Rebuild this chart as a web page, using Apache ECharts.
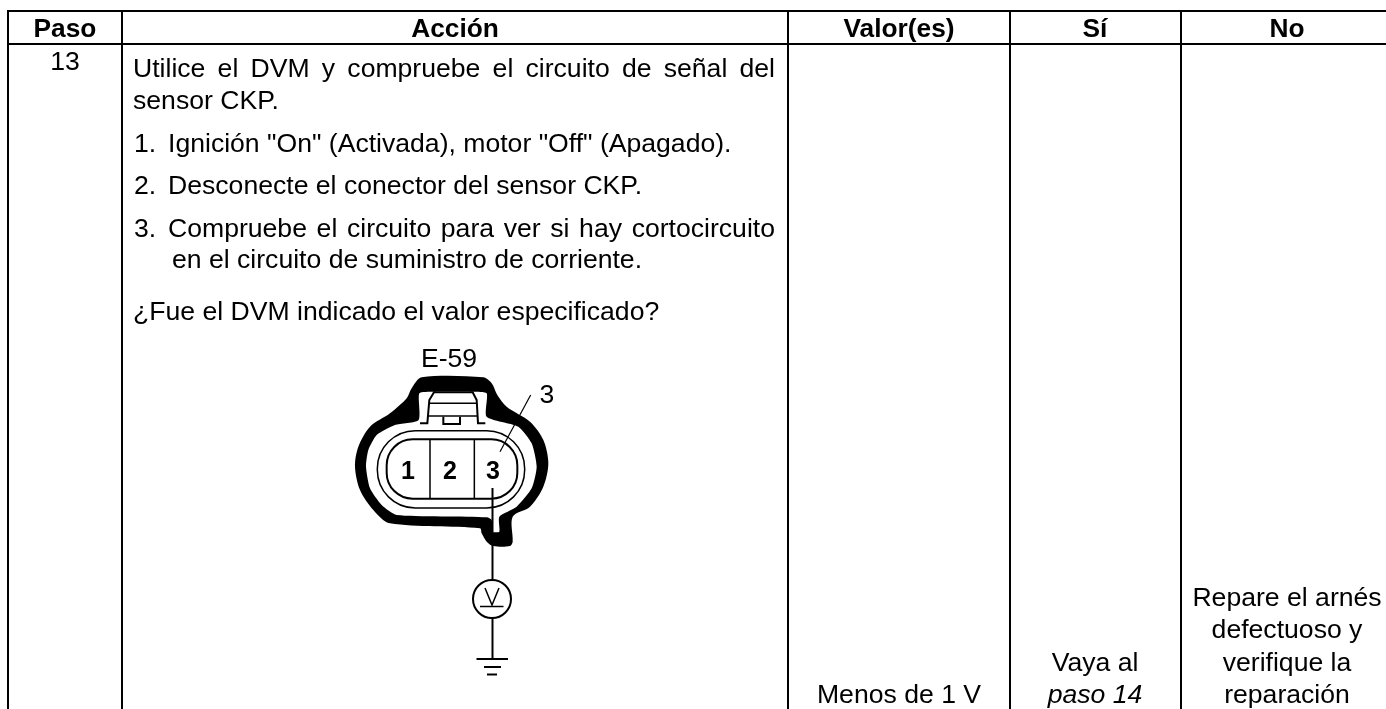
<!DOCTYPE html>
<html>
<head>
<meta charset="utf-8">
<style>html,body{margin:0;padding:0;background:#fff}#main{width:1386px;height:709px}</style>
<script src="https://cdn.jsdelivr.net/npm/echarts@6/dist/echarts.min.js"></script>
</head>
<body>
<div id="main"></div>
<script>
var headers=['Paso','Acción','Valor(es)','Sí','No'];
var stepNo='13';
var introLine1=['Utilice','el','DVM','y','compruebe','el','circuito','de','señal','del'];
var introLine2='sensor CKP.';
var item1='Ignición "On" (Activada), motor "Off" (Apagado).';
var item2='Desconecte el conector del sensor CKP.';
var item3Line1=['Compruebe','el','circuito','para','ver','si','hay','cortocircuito'];
var item3Line2='en el circuito de suministro de corriente.';
var question='¿Fue el DVM indicado el valor especificado?';
var valueText='Menos de 1 V';
var yesText=['Vaya al','paso 14'];
var noText=['Repare el arnés','defectuoso y','verifique la','reparación'];

var myChart=echarts.init(document.getElementById('main'));
var FONT='"Liberation Sans", Arial, sans-serif';
var SIZE=26.6;
var colX=[8,122,788,1010,1181];
var els=[];

var ctx=document.createElement('canvas').getContext('2d');
function measure(s){
  ctx.font=SIZE+'px '+FONT;
  return ctx.measureText(s).width;
}
// baseline y is converted to a middle-aligned y
function text(s,x,base,align,opts){
  opts=opts||{};
  var size=opts.size||SIZE;
  els.push({type:'text',silent:true,z:5,x:x,y:base-size*0.27,style:{
    text:s,fill:'#000',align:align||'left',verticalAlign:'middle',
    font:(opts.style||'')+' '+(opts.weight||'normal')+' '+size+'px '+FONT
  }});
}
function justify(words,x0,x1,base){
  var sum=0;
  for(var i=0;i<words.length;i++){sum+=measure(words[i])}
  var gap=(x1-x0-sum)/(words.length-1);
  var x=x0;
  for(var j=0;j<words.length;j++){
    text(words[j],x,base);
    x+=measure(words[j])+gap;
  }
}
function line(x1,y1,x2,y2,w){
  els.push({type:'line',silent:true,z:3,shape:{x1:x1,y1:y1,x2:x2,y2:y2},style:{stroke:'#000',lineWidth:w||2}});
}
function pts(arr){
  return arr.map(function(p){return [340+p[0]/3,360+p[1]/3]});
}
function poly(arr,fill,z,smooth){
  els.push({type:'polygon',silent:true,z:z||2,shape:{points:pts(arr),smooth:smooth||0},style:{fill:fill}});
}
function stroke(arr,w){
  els.push({type:'polyline',silent:true,z:3,shape:{points:pts(arr)},style:{fill:'none',stroke:'#000',lineWidth:w||1.5}});
}

// table frame
line(7,11,1386,11);
line(7,44,1386,44);
for(var c=0;c<colX.length;c++){line(colX[c],11,colX[c],709)}

// header
var headCenters=[65,455,899,1095,1287];
for(var h=0;h<headers.length;h++){text(headers[h],headCenters[h],36.5,'center',{weight:'bold',size:26.3})}
text(stepNo,65,70,'center');

// action column
justify(introLine1,133,775,77);
text(introLine2,133,108.5);
text('1.',134,151.5);text(item1,168,151.5);
text('2.',134,194);text(item2,168,194);
text('3.',134,236.5);
justify(item3Line1,168,775,236.5);
text(item3Line2,172,268);
text(question,133,320);

// bottom of the result columns
text(valueText,899,703,'center');
text(yesText[0],1095,671,'center');
text(yesText[1],1095,703,'center',{style:'italic'});
for(var n=0;n<noText.length;n++){text(noText[n],1287,[606,638,671,703][n],'center')}

// connector drawing
text('E-59',449,367,'center');
text('3',547,403,'center');
poly([[245,52],[430,52],[455,70],[472,105],[500,140],[570,185],[610,240],[625,310],[610,380],[570,440],[518,470],[518,545],[510,558],[460,558],[440,545],[425,520],[420,505],[150,490],[100,450],[60,390],[45,320],[55,260],[90,200],[150,160],[200,115],[215,85]],'#000',2,0.3);
poly([[238,100],[280,95],[400,95],[440,100],[440,170],[535,200],[575,250],[590,320],[575,385],[530,440],[478,470],[478,515],[458,515],[455,480],[440,472],[170,465],[125,435],[90,385],[78,320],[85,270],[110,225],[165,195],[236,180]],'#fff',2,0.2);
// latch
stroke([[240,190],[262,190],[268,120],[282,97],[398,97],[410,120],[414,190],[436,190]],2);
stroke([[268,130],[410,130]],1.5);
stroke([[262,168],[414,168]],1.5);
stroke([[310,170],[310,192],[360,192],[360,170]],2);
// housing outlines
els.push({type:'rect',silent:true,z:3,shape:{x:340+112/3,y:360+212/3,width:442/3,height:232/3,r:38},style:{fill:'none',stroke:'#000',lineWidth:1.5}});
els.push({type:'rect',silent:true,z:3,shape:{x:340+140/3,y:360+238/3,width:392/3,height:178/3,r:26},style:{fill:'#fff',stroke:'#000',lineWidth:2}});
stroke([[270,238],[270,416]],1.5);
stroke([[403,238],[403,416]],1.5);
text('1',408,479,'center',{weight:'bold',size:25});
text('2',450,479,'center',{weight:'bold',size:25});
text('3',493,479,'center',{weight:'bold',size:25});
stroke([[480,275],[572,105]],1.2);
// wiring to the meter
line(492.5,488,492.5,532,2);
line(492.5,540,492.5,580,2);
els.push({type:'circle',silent:true,z:3,shape:{cx:492,cy:599,r:19},style:{fill:'#fff',stroke:'#000',lineWidth:2}});
els.push({type:'polyline',silent:true,z:4,shape:{points:[[485,588],[492,605],[499,588]]},style:{fill:'none',stroke:'#000',lineWidth:1.5}});
line(480,606.5,503.5,606.5,1.5);
line(492.5,618,492.5,659,2);
line(476.5,659,508,659,2);
line(484,667,501,667,2);
line(487,674.5,497,674.5,2);

var option={
  animation:false,
  graphic:{elements:els}
};
myChart.setOption(option);
</script>
</body>
</html>
